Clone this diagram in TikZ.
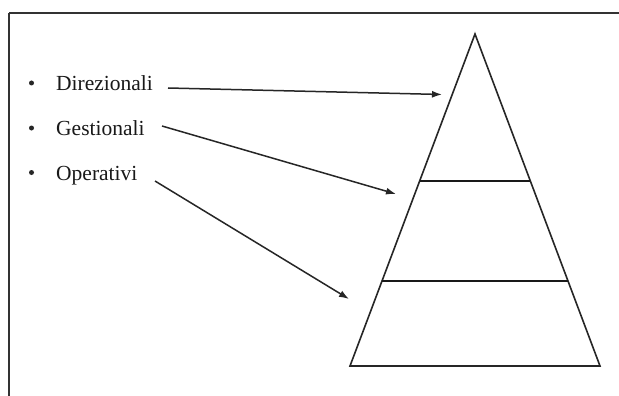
\documentclass[tikz,border=0pt]{standalone}
\usepackage{fontspec}
\setmainfont{Liberation Serif}
\usetikzlibrary{arrows.meta,calc}
\begin{document}
\begin{tikzpicture}[x=1pt,y=-1pt,
  frameline/.style={draw=black!80,line width=2.4pt},
  pyrline/.style={draw=black!85,line width=1.6pt,line join=miter},
  levelline/.style={draw=black!90,line width=2.2pt},
  pointer/.style={draw=black!85,line width=1.5pt,-{Latex[length=10pt,width=7pt]}},
  itemtext/.style={anchor=base west,inner sep=0pt,text=black!90,font=\fontsize{21.5}{24}\selectfont},
  dot/.style={circle,fill=black!85,inner sep=0pt,minimum size=5pt}]
\useasboundingbox (0,0) rectangle (619,396);
\fill[white] (0,0) rectangle (619,396);
% open frame: top and left edges
\draw[frameline] (9,13) -- (621,13);
\draw[frameline] (9,13) -- (9,398);
% pyramid
\coordinate (apex) at (475,34);
\coordinate (bl) at (350,366);
\coordinate (br) at (600,366);
\draw[pyrline] (bl) -- (apex) -- (br) -- cycle;
\coordinate (l1) at ($(bl)!0.557!(apex)$);
\coordinate (r1) at ($(br)!0.557!(apex)$);
\coordinate (l2) at ($(bl)!0.256!(apex)$);
\coordinate (r2) at ($(br)!0.256!(apex)$);
\draw[levelline] (l1) -- (r1);
\draw[levelline] (l2) -- (r2);
% bullet list
\node[dot] (b1) at (31.5,83) {};
\node[dot] (b2) at (31.5,128) {};
\node[dot] (b3) at (31.5,172.5) {};
\node[itemtext] (dir) at (56,90.5) {Direzionali};
\node[itemtext] (ges) at (56,135.5) {Gestionali};
\node[itemtext] (ope) at (56,180.5) {Operativi};
% pointers into the pyramid levels
\coordinate (s1) at (168,88);
\coordinate (s2) at (162,126);
\coordinate (s3) at (155,181);
\coordinate (t1) at (442,94.5);
\coordinate (t2) at (396,194);
\coordinate (t3) at (349,299);
\draw[pointer] (s1) -- (t1);
\draw[pointer] (s2) -- (t2);
\draw[pointer] (s3) -- (t3);
\end{tikzpicture}
\end{document}
